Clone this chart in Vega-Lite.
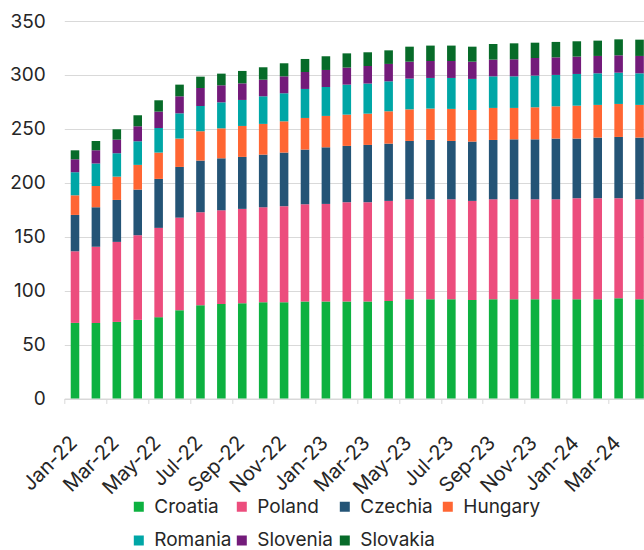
{
  "$schema": "https://vega.github.io/schema/vega-lite/v6.json",
  "width": 580,
  "height": 377.5,
  "autosize": "none",
  "padding": {"left": 64.3, "top": 21, "right": 0, "bottom": 151.5},
  "config": {"font": "Inter", "view": {"stroke": null}},
  "data": {
    "values": [
      {"month": "Jan-22", "Croatia": 70.1, "Poland": 66.4, "Czechia": 33.7, "Hungary": 18.2, "Romania": 21.4, "Slovenia": 12.0, "Slovakia": 8.3},
      {"month": "Feb-22", "Croatia": 70.1, "Poland": 70.5, "Czechia": 36.7, "Hungary": 19.8, "Romania": 20.7, "Slovenia": 12.3, "Slovakia": 8.7},
      {"month": "Mar-22", "Croatia": 71.0, "Poland": 74.2, "Czechia": 38.9, "Hungary": 21.6, "Romania": 21.7, "Slovenia": 12.6, "Slovakia": 9.6},
      {"month": "Apr-22", "Croatia": 72.9, "Poland": 78.5, "Czechia": 42.3, "Hungary": 22.9, "Romania": 21.9, "Slovenia": 13.9, "Slovakia": 10.2},
      {"month": "May-22", "Croatia": 75.4, "Poland": 82.8, "Czechia": 45.4, "Hungary": 24.4, "Romania": 22.8, "Slovenia": 15.2, "Slovakia": 10.5},
      {"month": "Jun-22", "Croatia": 81.9, "Poland": 85.8, "Czechia": 47.0, "Hungary": 26.3, "Romania": 23.4, "Slovenia": 15.8, "Slovakia": 10.8},
      {"month": "Jul-22", "Croatia": 86.5, "Poland": 86.2, "Czechia": 47.9, "Hungary": 27.2, "Romania": 23.4, "Slovenia": 16.7, "Slovakia": 10.5},
      {"month": "Aug-22", "Croatia": 87.7, "Poland": 86.8, "Czechia": 48.2, "Hungary": 27.8, "Romania": 24.1, "Slovenia": 15.8, "Slovakia": 10.8},
      {"month": "Sep-22", "Croatia": 88.4, "Poland": 87.4, "Czechia": 48.2, "Hungary": 28.7, "Romania": 24.1, "Slovenia": 15.4, "Slovakia": 11.5},
      {"month": "Oct-22", "Croatia": 89.3, "Poland": 88.0, "Czechia": 48.8, "Hungary": 28.5, "Romania": 25.6, "Slovenia": 15.4, "Slovakia": 11.5},
      {"month": "Nov-22", "Croatia": 89.3, "Poland": 89.0, "Czechia": 49.7, "Hungary": 29.0, "Romania": 26.0, "Slovenia": 15.7, "Slovakia": 12.1},
      {"month": "Dec-22", "Croatia": 89.9, "Poland": 90.2, "Czechia": 50.7, "Hungary": 29.3, "Romania": 26.9, "Slovenia": 15.7, "Slovakia": 12.1},
      {"month": "Jan-23", "Croatia": 89.9, "Poland": 90.5, "Czechia": 52.5, "Hungary": 29.1, "Romania": 26.8, "Slovenia": 15.8, "Slovakia": 12.7},
      {"month": "Feb-23", "Croatia": 89.9, "Poland": 92.1, "Czechia": 52.2, "Hungary": 29.0, "Romania": 27.8, "Slovenia": 15.8, "Slovakia": 13.2},
      {"month": "Mar-23", "Croatia": 89.9, "Poland": 92.1, "Czechia": 53.1, "Hungary": 29.0, "Romania": 27.9, "Slovenia": 16.3, "Slovakia": 12.7},
      {"month": "Apr-23", "Croatia": 90.5, "Poland": 92.7, "Czechia": 53.1, "Hungary": 30.0, "Romania": 27.8, "Slovenia": 16.1, "Slovakia": 12.6},
      {"month": "May-23", "Croatia": 92.1, "Poland": 92.6, "Czechia": 54.1, "Hungary": 29.3, "Romania": 28.5, "Slovenia": 15.7, "Slovakia": 13.9},
      {"month": "Jun-23", "Croatia": 92.1, "Poland": 92.6, "Czechia": 55.0, "Hungary": 29.1, "Romania": 28.4, "Slovenia": 15.7, "Slovakia": 14.3},
      {"month": "Jul-23", "Croatia": 92.1, "Poland": 92.6, "Czechia": 54.1, "Hungary": 29.7, "Romania": 28.7, "Slovenia": 15.7, "Slovakia": 14.3},
      {"month": "Aug-23", "Croatia": 91.4, "Poland": 91.8, "Czechia": 55.0, "Hungary": 29.3, "Romania": 28.8, "Slovenia": 16.0, "Slovakia": 13.9},
      {"month": "Sep-23", "Croatia": 92.1, "Poland": 92.6, "Czechia": 55.0, "Hungary": 29.7, "Romania": 29.3, "Slovenia": 15.5, "Slovakia": 14.5},
      {"month": "Oct-23", "Croatia": 92.1, "Poland": 92.6, "Czechia": 55.6, "Hungary": 29.1, "Romania": 29.3, "Slovenia": 15.8, "Slovakia": 14.8},
      {"month": "Nov-23", "Croatia": 92.1, "Poland": 92.6, "Czechia": 55.6, "Hungary": 29.7, "Romania": 29.4, "Slovenia": 16.3, "Slovakia": 14.2},
      {"month": "Dec-23", "Croatia": 92.1, "Poland": 92.6, "Czechia": 56.3, "Hungary": 29.9, "Romania": 29.1, "Slovenia": 16.3, "Slovakia": 14.3},
      {"month": "Jan-24", "Croatia": 92.1, "Poland": 93.6, "Czechia": 55.3, "Hungary": 30.5, "Romania": 29.4, "Slovenia": 16.1, "Slovakia": 14.2},
      {"month": "Feb-24", "Croatia": 92.1, "Poland": 93.6, "Czechia": 56.2, "Hungary": 30.3, "Romania": 29.3, "Slovenia": 16.1, "Slovakia": 14.2},
      {"month": "Mar-24", "Croatia": 93.0, "Poland": 92.7, "Czechia": 56.8, "Hungary": 30.6, "Romania": 29.0, "Slovenia": 16.1, "Slovakia": 14.8},
      {"month": "Apr-24", "Croatia": 92.1, "Poland": 92.6, "Czechia": 57.2, "Hungary": 30.3, "Romania": 29.3, "Slovenia": 16.1, "Slovakia": 15.1}
    ]
  },
  "transform": [
    {"fold": ["Croatia", "Poland", "Czechia", "Hungary", "Romania", "Slovenia", "Slovakia"], "as": ["country", "value"]},
    {"calculate": "indexof(['Croatia','Poland','Czechia','Hungary','Romania','Slovenia','Slovakia'], datum.country)", "as": "stackOrder"}
  ],
  "mark": {"type": "bar"},
  "encoding": {
    "x": {
      "field": "month",
      "type": "ordinal",
      "sort": null,
      "scale": {"paddingInner": 0.59, "paddingOuter": 0.165, "align": 0.93},
      "axis": {
        "title": null,
        "values": ["Jan-22", "Mar-22", "May-22", "Jul-22", "Sep-22", "Nov-22", "Jan-23", "Mar-23", "May-23", "Jul-23", "Sep-23", "Nov-23", "Jan-24", "Mar-24"],
        "labelAngle": -45,
        "labelAlign": "right",
        "labelBaseline": "middle",
        "labelFontSize": 20,
        "labelColor": "#262626",
        "labelPadding": 36,
        "labelOffset": 9,
        "labelOverlap": false,
        "labelFlush": false,
        "tickOffset": -10.45,
        "tickSize": 5,
        "tickColor": "#d9d9d9",
        "domainColor": "#d9d9d9",
        "grid": false
      }
    },
    "y": {
      "field": "value",
      "type": "quantitative",
      "stack": "zero",
      "scale": {"domain": [0, 350]},
      "axis": {
        "title": null,
        "values": [0, 50, 100, 150, 200, 250, 300, 350],
        "domain": false,
        "ticks": false,
        "tickSize": 0,
        "labelPadding": 19,
        "labelFontSize": 19,
        "labelColor": "#262626",
        "gridColor": "#d9d9d9"
      }
    },
    "order": {"field": "stackOrder", "type": "quantitative", "sort": "ascending"},
    "color": {
      "field": "country",
      "type": "nominal",
      "sort": ["Croatia", "Poland", "Czechia", "Hungary", "Romania", "Slovenia", "Slovakia"],
      "scale": {
        "domain": ["Croatia", "Poland", "Czechia", "Hungary", "Romania", "Slovenia", "Slovakia"],
        "range": ["#0db140", "#ec4d7d", "#245476", "#ff6633", "#00a6a6", "#731b7a", "#076b29"]
      },
      "legend": {
        "orient": "none",
        "legendX": 65,
        "legendY": 476,
        "direction": "horizontal",
        "columns": 4,
        "title": null,
        "symbolType": "square",
        "symbolSize": 100,
        "symbolStrokeWidth": 0,
        "labelFontSize": 19,
        "labelColor": "#262626",
        "gridAlign": "all",
        "columnPadding": -1,
        "rowPadding": 14,
        "labelOffset": 6,
        "padding": 0
      }
    }
  }
}
